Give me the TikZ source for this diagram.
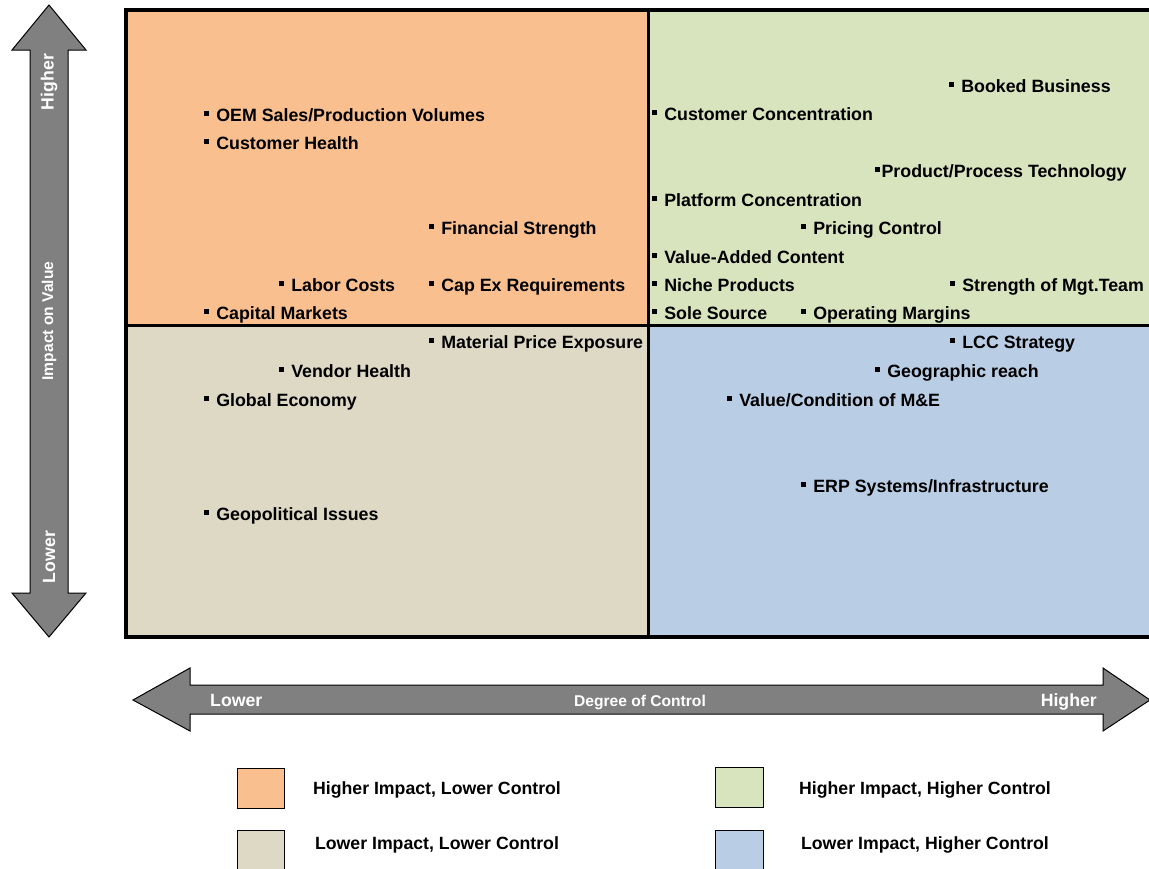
\documentclass[tikz,border=0pt]{standalone}
\usepackage{fontspec}
\setmainfont{Liberation Sans}
\definecolor{quadOrange}{HTML}{F9BF8F}
\definecolor{quadGreen}{HTML}{D7E4BD}
\definecolor{quadTan}{HTML}{DDD9C4}
\definecolor{quadBlue}{HTML}{B9CDE5}
\definecolor{arrowGray}{HTML}{808080}
\newcommand{\bul}{\rule[0.3em]{0.26em}{0.26em}\hspace{0.42em}}
\newcommand{\bulTight}{\rule[0.3em]{0.26em}{0.26em}\hspace{0.1em}}

\begin{document}
\begin{tikzpicture}[x=1pt,y=-1pt]
 \tikzset{
  factor/.style={anchor=base west, inner sep=0pt, font=\bfseries\fontsize{17.8}{20}\selectfont},
  axisLabel/.style={inner sep=0pt, white, font=\bfseries\fontsize{17.7}{20}\selectfont},
  axisName/.style={axisLabel, font=\bfseries\fontsize{15.6}{18}\selectfont},
  legendBox/.style={draw=black, line width=1pt},
  legendText/.style={anchor=base, inner sep=0pt, font=\bfseries\fontsize{17.7}{20}\selectfont},
  bigArrow/.style={draw=black, fill=arrowGray, line width=1pt, line join=miter}
  }
  \useasboundingbox (0,0) rectangle (1149,868);
  % the four quadrants
  \fill[quadOrange] (126,10) rectangle (648,325);
  \fill[quadGreen] (648,10) rectangle (1152,325);
  \fill[quadTan] (126,325) rectangle (648,637);
  \fill[quadBlue] (648,325) rectangle (1152,637);
  % dividing lines
  \draw[line width=3pt] (648,10) -- (648,637);
  \draw[line width=3pt] (126,325) -- (1152,325);
  % frame
  \draw[line width=4pt] (1152,10) -- (126,10) -- (126,637) -- (1152,637);

  % higher impact, lower control
  \node[factor] (oemSales) at (204,121) {\bul OEM Sales/Production Volumes};
  \node[factor] (custHealth) at (204,149) {\bul Customer Health};
  \node[factor] (finStrength) at (429,234) {\bul Financial Strength};
  \node[factor] (laborCosts) at (279,291) {\bul Labor Costs};
  \node[factor] (capEx) at (429,291) {\bul Cap Ex Requirements};
  \node[factor] (capMarkets) at (204,319) {\bul Capital Markets};

  % lower impact, lower control
  \node[factor] (matPrice) at (429,348) {\bul Material Price Exposure};
  \node[factor] (vendHealth) at (279,377) {\bul Vendor Health};
  \node[factor] (globEcon) at (204,406) {\bul Global Economy};
  \node[factor] (geoPol) at (204,520) {\bul Geopolitical Issues};

  % higher impact, higher control
  \node[factor] (booked) at (949,92) {\bul Booked Business};
  \node[factor] (custConc) at (652,120) {\bul Customer Concentration};
  \node[factor] (prodTech) at (875,177) {\bulTight Product/Process Technology};
  \node[factor] (platConc) at (652,206) {\bul Platform Concentration};
  \node[factor] (pricing) at (801,234) {\bul Pricing Control};
  \node[factor] (valueAdd) at (652,263) {\bul Value-Added Content};
  \node[factor] (niche) at (652,291) {\bul Niche Products};
  \node[factor] (mgtTeam) at (950,291) {\bul Strength of Mgt.Team};
  \node[factor] (soleSrc) at (652,319) {\bul Sole Source};
  \node[factor] (opMargins) at (801,319) {\bul Operating Margins};

  % lower impact, higher control
  \node[factor] (lcc) at (950,348) {\bul LCC Strategy};
  \node[factor] (geoReach) at (875,377) {\bul Geographic reach};
  \node[factor] (valueME) at (727,406) {\bul Value/Condition of M\&E};
  \node[factor] (erp) at (801,492) {\bul ERP Systems/Infrastructure};

  % impact axis
  \draw[bigArrow] (49,5) -- (86,50) -- (68,50) -- (68,593) -- (86,593) -- (49,637)
   -- (12,593) -- (30,593) -- (30,50) -- (12,50) -- cycle;
  \node[axisLabel, rotate=90] (impHigh) at (49,82) {Higher};
  \node[axisName, rotate=90] (impName) at (49,321) {Impact on Value};
  \node[axisLabel, rotate=90] (impLow) at (49,557) {Lower};

  % control axis
  \draw[bigArrow] (133,700) -- (190,668) -- (190,685) -- (1103,685) -- (1103,668) -- (1150,700)
   -- (1103,731) -- (1103,714) -- (190,714) -- (190,731) -- cycle;
  \node[axisLabel, anchor=base west] (ctlLow) at (210,706) {Lower};
  \node[axisName, anchor=base] (ctlName) at (640,706) {Degree of Control};
  \node[axisLabel, anchor=base east] (ctlHigh) at (1097,706) {Higher};

  % legend
  \draw[legendBox, fill=quadOrange] (237,768) rectangle (284,808);
  \draw[legendBox, fill=quadTan] (237,830) rectangle (284,872);
  \draw[legendBox, fill=quadGreen] (715,767) rectangle (763,807);
  \draw[legendBox, fill=quadBlue] (715,830) rectangle (763,872);
  \node[legendText] (legHL) at (437,794) {Higher Impact, Lower Control};
  \node[legendText] (legLL) at (437,849) {Lower Impact, Lower Control};
  \node[legendText] (legHH) at (925,794) {Higher Impact, Higher Control};
  \node[legendText] (legLH) at (925,849) {Lower Impact, Higher Control};
\end{tikzpicture}
\end{document}
